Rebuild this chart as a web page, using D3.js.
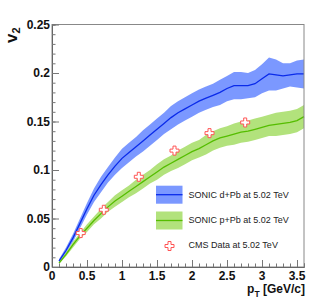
<!DOCTYPE html>
<html>
<head>
<meta charset="utf-8">
<script src="https://cdn.jsdelivr.net/npm/d3@7"></script>
<style>
  html, body { margin: 0; padding: 0; background: #fff; }
  svg { display: block; font-family: "Liberation Sans", Arial, sans-serif; }
</style>
</head>
<body>
<div id="chart"></div>
<script>
// Datos
let pt = [0.1,0.2,0.3,0.4,0.5,0.6,0.7,0.8,0.9,1.0,1.1,1.2,1.3,1.4,1.5,1.6,1.7,1.8,1.9,2.0,
          2.1,2.2,2.3,2.4,2.5,2.6,2.7,2.8,2.9,3.0,3.1,3.2,3.3,3.4,3.5,3.6];
let dPb = [0.006,0.017,0.030,0.045,0.060,0.074,0.085,0.095,0.104,0.112,0.118,0.124,0.130,0.136,0.142,0.148,0.154,0.159,0.163,0.167,
           0.171,0.174,0.177,0.180,0.184,0.187,0.187,0.187,0.189,0.194,0.199,0.198,0.197,0.198,0.199,0.199];
let dPbErr = [0.002,0.003,0.004,0.005,0.006,0.007,0.008,0.008,0.009,0.010,0.010,0.010,0.011,0.011,0.011,0.011,0.012,0.012,0.012,0.012,
              0.012,0.012,0.012,0.013,0.013,0.014,0.014,0.013,0.014,0.015,0.017,0.016,0.013,0.012,0.014,0.015];
let pPb = [0.004,0.013,0.023,0.032,0.040,0.048,0.055,0.062,0.068,0.073,0.078,0.083,0.088,0.093,0.098,0.103,0.107,0.111,0.115,0.119,
           0.122,0.126,0.130,0.133,0.135,0.137,0.139,0.140,0.142,0.144,0.146,0.147,0.148,0.149,0.151,0.155];
let pPbErr = [0.001,0.002,0.003,0.003,0.004,0.004,0.005,0.005,0.006,0.006,0.006,0.007,0.007,0.007,0.008,0.008,0.008,0.009,0.009,0.009,
              0.009,0.010,0.010,0.010,0.010,0.011,0.011,0.011,0.011,0.011,0.011,0.012,0.012,0.012,0.012,0.012];
let cmsPt = [0.41, 0.74, 1.24, 1.75, 2.25, 2.76];
let cmsV2 = [0.035, 0.059, 0.093, 0.120, 0.138, 0.149];
let xTicks = [0, 0.5, 1, 1.5, 2, 2.5, 3, 3.5];
let xTickLabels = ['0', '0.5', '1', '1.5', '2', '2.5', '3', '3.5'];
let yTicks = [0, 0.05, 0.1, 0.15, 0.2, 0.25];
let yTickLabels = ['0', '0.05', '0.1', '0.15', '0.2', '0.25'];
let legendLabels = ['SONIC d+Pb at 5.02 TeV', 'SONIC p+Pb at 5.02 TeV', 'CMS Data at 5.02 TeV'];

let colors = { blueBand: '#7b98ff', blueLine: '#0a2bea', greenBand: '#b2e27c', greenLine: '#55bd00', cms: '#f55' };
let font = '"Liberation Sans", Arial, sans-serif';

let W = 315, H = 303;
let margin = {top: 24.5, right: 11, bottom: 36, left: 52};
let width = W - margin.left - margin.right, height = H - margin.top - margin.bottom;

let svg = d3.select('#chart').append('svg').attr('width', W).attr('height', H);
let chart = svg.append('g').attr('transform', 'translate(' + margin.left + ',' + margin.top + ')');

let x = d3.scaleLinear().domain([0, 3.6]).range([0, width]);
let y = d3.scaleLinear().domain([0, 0.25]).range([height, 0]);

let curve = (vals, errs) => pt.map((p, i) => ({p: p, v: vals[i], e: errs[i]}));
let dData = curve(dPb, dPbErr), pData = curve(pPb, pPbErr);

let area = d3.area().x(d => x(d.p)).y0(d => y(d.v - d.e)).y1(d => y(d.v + d.e));
let line = d3.line().x(d => x(d.p)).y(d => y(d.v));

//Bandas
chart.append('path').attr('d', area(dData)).attr('fill', colors.blueBand);
chart.append('path').attr('d', area(pData)).attr('fill', colors.greenBand);
chart.append('path').attr('d', line(dData)).attr('fill', 'none').attr('stroke', colors.blueLine).attr('stroke-width', 1.3);
chart.append('path').attr('d', line(pData)).attr('fill', 'none').attr('stroke', colors.greenLine).attr('stroke-width', 1.3);

//Cruz abierta
function crossPath(s, a) {
    return 'M' + (-a) + ',' + (-s) + 'H' + a + 'V' + (-a) + 'H' + s + 'V' + a + 'H' + a + 'V' + s +
           'H' + (-a) + 'V' + a + 'H' + (-s) + 'V' + (-a) + 'H' + (-a) + 'Z';
}
chart.selectAll('.cms')
    .data(cmsPt.map((p, i) => ({p: p, v: cmsV2[i]})))
    .enter().append('path')
    .attr('class', 'cms')
    .attr('transform', d => 'translate(' + x(d.p) + ',' + y(d.v) + ')')
    .attr('d', crossPath(4.5, 1.5))
    .attr('fill', 'white').attr('stroke', colors.cms).attr('stroke-width', 1);

//Marco
chart.append('rect').attr('x', 0).attr('y', 0).attr('width', width).attr('height', height)
    .attr('fill', 'none').attr('stroke', '#888').attr('stroke-width', 1);

//Ejes con ticks hacia dentro (menores y mayores)
let xMinor = chart.append('g').attr('transform', 'translate(0,' + height + ')')
    .call(d3.axisBottom(x).tickValues(d3.range(0, 3.61, 0.1)).tickSize(-3.5).tickFormat(''));
xMinor.selectAll('.tick line').attr('stroke', '#777');
xMinor.select('.domain').attr('stroke', '#666');
let xMajor = chart.append('g').attr('transform', 'translate(0,' + height + ')')
    .call(d3.axisBottom(x).tickValues(xTicks).tickSize(-7).tickFormat(''));
xMajor.select('.domain').remove();
xMajor.selectAll('.tick line').attr('stroke', '#777');

let yMinor = chart.append('g')
    .call(d3.axisLeft(y).tickValues(d3.range(0, 0.2501, 0.01)).tickSize(-3.5).tickFormat(''));
yMinor.selectAll('.tick line').attr('stroke', '#777');
yMinor.select('.domain').attr('stroke', '#666');
let yMajor = chart.append('g')
    .call(d3.axisLeft(y).tickValues(yTicks).tickSize(-7).tickFormat(''));
yMajor.select('.domain').remove();
yMajor.selectAll('.tick line').attr('stroke', '#777');

//Etiquetas de los ticks
chart.selectAll('.xlab').data(xTicks).enter().append('text')
    .attr('class', 'xlab')
    .attr('x', d => x(d)).attr('y', height + 12.5)
    .attr('text-anchor', 'middle').attr('font-size', 12).attr('font-weight', 'bold')
    .attr('font-family', font).attr('fill', '#111')
    .text((d, i) => xTickLabels[i]);
chart.selectAll('.ylab').data(yTicks).enter().append('text')
    .attr('class', 'ylab')
    .attr('x', -2).attr('y', d => y(d)).attr('dy', '0.36em')
    .attr('text-anchor', 'end').attr('font-size', 12).attr('font-weight', 'bold')
    .attr('font-family', font).attr('fill', '#111')
    .text((d, i) => yTickLabels[i]);

//Títulos de ejes
let yTitle = svg.append('text').attr('transform', 'translate(17,43) rotate(-90)')
    .attr('font-weight', 'bold').attr('font-size', 17).attr('fill', '#111');
yTitle.append('tspan').text('v');
yTitle.append('tspan').attr('font-size', 11).attr('dy', 3).text('2');

let xTitle = svg.append('text').attr('x', 305).attr('y', 293).attr('text-anchor', 'end')
    .attr('font-weight', 'bold').attr('font-size', 12).attr('fill', '#111');
xTitle.append('tspan').text('p');
xTitle.append('tspan').attr('font-size', 8.5).attr('dy', 4).text('T');
xTitle.append('tspan').attr('dy', -4).text(' [GeV/c]');

//Leyenda
let legend = svg.append('g');
let lx = 156, lw = 26.5;
[[185.7, colors.blueBand, colors.blueLine], [211.5, colors.greenBand, colors.greenLine]].forEach(function(d) {
    legend.append('rect').attr('x', lx).attr('y', d[0]).attr('width', lw).attr('height', 18).attr('fill', d[1]);
    legend.append('line').attr('x1', lx).attr('x2', lx + lw).attr('y1', d[0] + 9).attr('y2', d[0] + 9)
        .attr('stroke', d[2]).attr('stroke-width', 1.3);
});
legend.append('path').attr('transform', 'translate(169.5,246)').attr('d', crossPath(4.5, 1.5))
    .attr('fill', 'white').attr('stroke', colors.cms).attr('stroke-width', 1);
[197.5, 222.5, 248].forEach(function(yy, i) {
    legend.append('text').attr('x', 188.5).attr('y', yy).attr('font-size', 9).attr('fill', '#222')
        .text(legendLabels[i]);
});
</script>
</body>
</html>
